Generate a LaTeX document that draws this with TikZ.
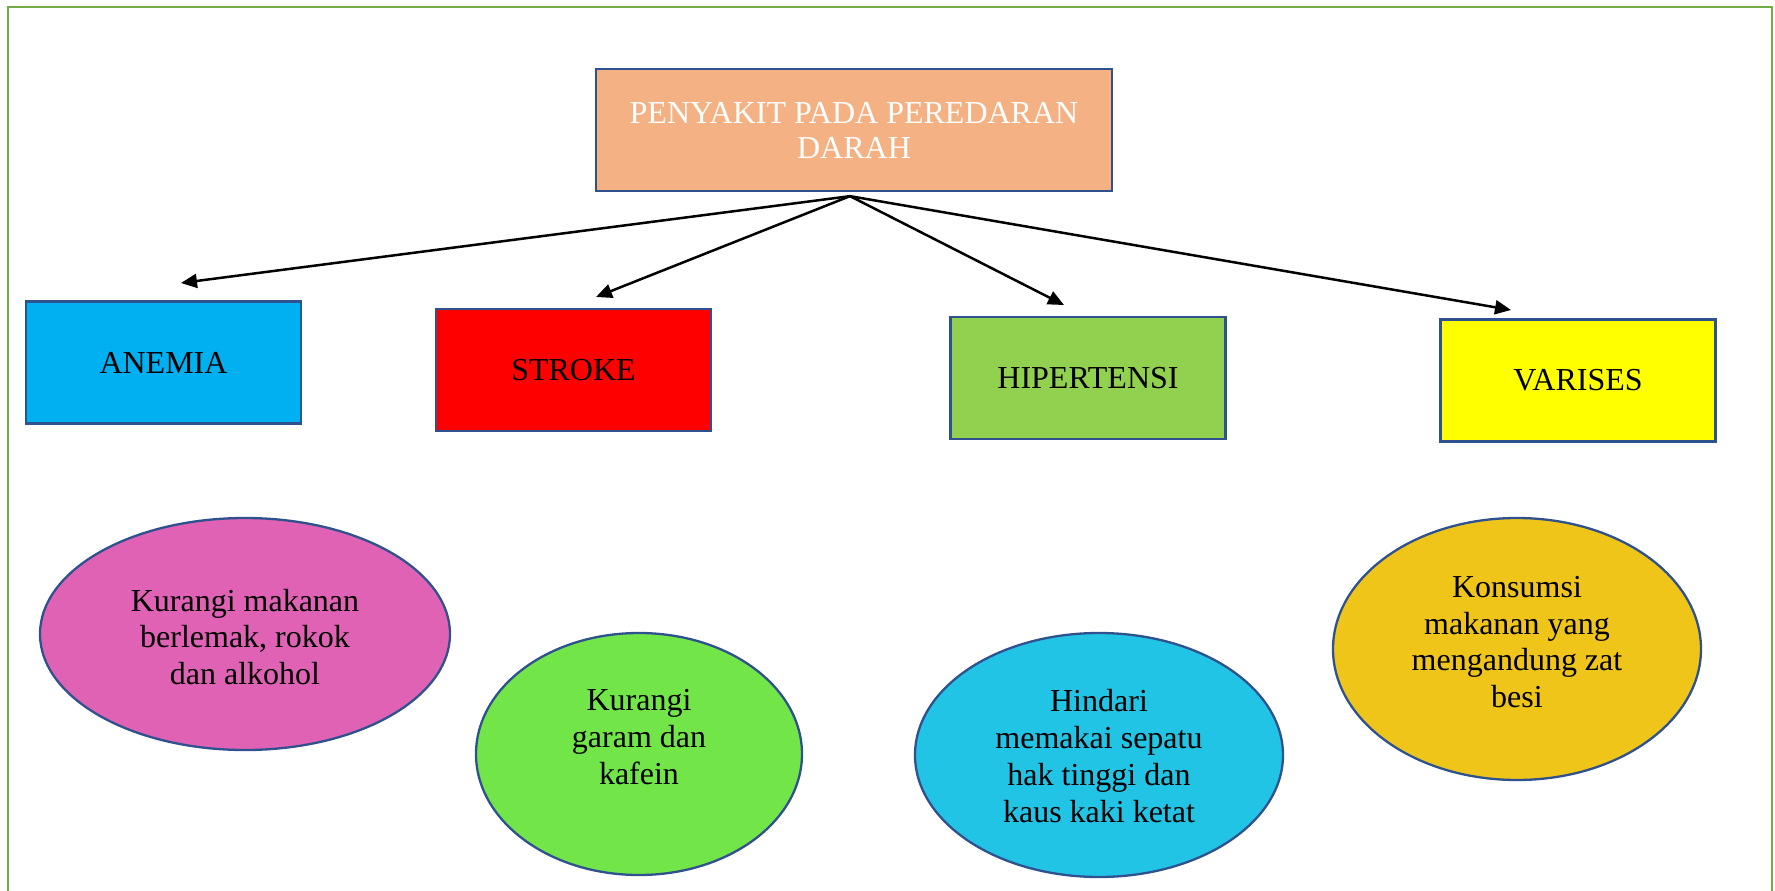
\documentclass[tikz,border=0pt]{standalone}
\usepackage{fontspec}
\setmainfont{Liberation Serif}
\usetikzlibrary{shapes.geometric,arrows.meta}
\definecolor{framec}{HTML}{70AD47}
\definecolor{edgec}{HTML}{2F528F}
\definecolor{topc}{HTML}{F4B183}
\definecolor{anemiac}{HTML}{00B0F0}
\definecolor{strokec}{HTML}{FF0000}
\definecolor{hiperc}{HTML}{92D050}
\definecolor{varisesc}{HTML}{FFFF00}
\definecolor{pinkc}{HTML}{E062B4}
\definecolor{greenc}{HTML}{72E648}
\definecolor{cyanc}{HTML}{22C4E5}
\definecolor{goldc}{HTML}{EFC51A}
\begin{document}
\begin{tikzpicture}[x=1pt,y=-1pt,
  box/.style={draw=edgec,line width=2.3pt,minimum width=275pt,minimum height=122pt,inner sep=0pt,align=center,font=\fontsize{32}{35}\selectfont},
  oval/.style={ellipse,draw=edgec,line width=2.3pt,inner sep=0pt},
  txt/.style={align=center,font=\fontsize{32}{36.7}\selectfont},
  arr/.style={line width=2.5pt,-{Triangle[length=16pt,width=14pt]}}]
\useasboundingbox (0,0) rectangle (1775,891);
\draw[framec,line width=2.2pt] (8,893) -- (8,7) -- (1772,7) -- (1772,893);

\node[box,fill=topc,text=white,minimum width=516pt] (top) at (854,130) {PENYAKIT PADA PEREDARAN\\DARAH};
\node[box,fill=anemiac] (anemia) at (163.5,362.5) {ANEMIA};
\node[box,fill=strokec] (stroke) at (573.5,370) {STROKE};
\node[box,fill=hiperc] (hiper) at (1088,378) {HIPERTENSI};
\node[box,fill=varisesc] (varises) at (1578,380.5) {VARISES};

\coordinate (src) at ([shift={(-4,4)}]top.south);
\coordinate (a1) at (181,283);
\coordinate (a2) at (596,297);
\coordinate (a3) at (1064,305);
\coordinate (a4) at (1511,310);
\draw[arr] (src) -- (a1);
\draw[arr] (src) -- (a2);
\draw[arr] (src) -- (a3);
\draw[arr] (src) -- (a4);

\node[oval,fill=pinkc,minimum width=410pt,minimum height=232pt] (e1) at (245,634) {};
\node[txt] (t1) at (245,637) {Kurangi makanan\\berlemak, rokok\\dan alkohol};
\node[oval,fill=greenc,minimum width=326pt,minimum height=242pt] (e2) at (639,754) {};
\node[txt] (t2) at (639,737) {Kurangi\\garam dan\\kafein};
\node[oval,fill=cyanc,minimum width=368pt,minimum height=244pt] (e3) at (1099,755) {};
\node[txt] (t3) at (1099,756) {Hindari\\memakai sepatu\\hak tinggi dan\\kaus kaki ketat};
\node[oval,fill=goldc,minimum width=368pt,minimum height=262pt] (e4) at (1517,649) {};
\node[txt] (t4) at (1517,642) {Konsumsi\\makanan yang\\mengandung zat\\besi};
\end{tikzpicture}
\end{document}
